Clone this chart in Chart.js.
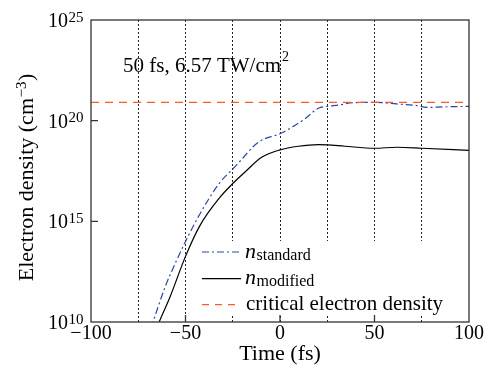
<!DOCTYPE html>
<html>
<head>
<meta charset="utf-8">
<script src="https://cdn.jsdelivr.net/npm/chart.js@4.4.0/dist/chart.umd.min.js"></script>
<style>
  html, body { margin: 0; padding: 0; background: #fff; }
  #wrap { width: 493px; height: 373px; position: relative; }
</style>
</head>
<body>
<div id="wrap"><canvas id="chart"></canvas></div>
<script>
// time in fs, density given as log10 of electron density (cm^-3)
const timeStandard = [-68.3, -67.2, -60.8, -55, -50, -42.3, -31.7, -25, -22, -11.5, 0, 6.2, 13.2, 20.3, 25, 31.7, 37, 50, 61.7, 72.3, 77.6, 88, 100];
const logStandard = [9.7, 10.0, 11.74, 13.0, 14.0, 15.38, 16.94, 17.6, 17.9, 18.93, 19.35, 19.67, 20.09, 20.62, 20.71, 20.78, 20.88, 20.91, 20.83, 20.75, 20.66, 20.69, 20.71];
const timeModified = [-65, -63.9, -58.2, -50, -42.3, -31.7, -25.6, -18.5, -9.7, 0, 9.7, 20.3, 25, 34.4, 50, 61.7, 75, 100];
const logModified = [9.73, 10.0, 11.24, 13.26, 14.8, 16.2, 16.82, 17.45, 18.18, 18.55, 18.73, 18.81, 18.8, 18.73, 18.63, 18.68, 18.63, 18.52];
const criticalLog = 20.91;
const timeRange = [-100, 100];

const xGridStep = 25;
const xLabelValues = [-100, -50, 0, 50, 100];
const yTickExponents = [10, 15, 20, 25];

const FONT = '"Liberation Serif", "Times New Roman", serif';
const BLUE = '#2d45a6';
const RED = '#ff5a2e';

const toPoints = (ts, logs) => ts.map((t, i) => ({ x: t, y: Math.pow(10, logs[i]) }));

const decor = {
  id: 'decor',
  afterDatasetsDraw(chart) {
    const { ctx, chartArea: a, scales: { x, y } } = chart;
    ctx.save();

    // legend box (white, hides the dotted lines)
    const box = { left: 200, top: 241, right: a.right - 3, bottom: 315 };
    ctx.fillStyle = '#fff';
    ctx.fillRect(box.left, box.top, box.right - box.left, box.bottom - box.top);

    const rows = [
      { y: 252, color: BLUE, dash: [7, 3, 2, 3], main: 'n', sub: 'standard' },
      { y: 278.7, color: '#000', dash: [], main: 'n', sub: 'modified' },
      { y: 304.7, color: RED, dash: [7, 6], text: 'critical electron density' },
    ];
    rows.forEach(r => {
      ctx.beginPath();
      ctx.strokeStyle = r.color;
      ctx.lineWidth = 1.2;
      ctx.setLineDash(r.dash);
      ctx.moveTo(202, r.y);
      ctx.lineTo(241, r.y);
      ctx.stroke();
      ctx.setLineDash([]);
      ctx.fillStyle = '#000';
      ctx.textAlign = 'left';
      ctx.textBaseline = 'alphabetic';
      if (r.text) {
        ctx.font = '21px ' + FONT;
        ctx.fillText(r.text, 246, r.y + 5);
      } else {
        ctx.font = 'italic 22px ' + FONT;
        ctx.fillText(r.main, 245, r.y + 5.5);
        const w = ctx.measureText(r.main).width;
        ctx.font = '16px ' + FONT;
        ctx.fillText(r.sub, 245 + w + 0.5, r.y + 7.5);
      }
    });

    // frame
    ctx.strokeStyle = '#333';
    ctx.lineWidth = 1.3;
    ctx.strokeRect(a.left, a.top, a.right - a.left, a.bottom - a.top);

    // inward major ticks
    ctx.beginPath();
    xLabelValues.forEach(v => {
      if (v <= timeRange[0] || v >= timeRange[1]) return;
      const px = x.getPixelForValue(v);
      ctx.moveTo(px, a.bottom);
      ctx.lineTo(px, a.bottom - 7);
    });
    yTickExponents.forEach(e => {
      if (e === yTickExponents[0] || e === yTickExponents[yTickExponents.length - 1]) return;
      const py = y.getPixelForValue(Math.pow(10, e));
      ctx.moveTo(a.left, py);
      ctx.lineTo(a.left + 7, py);
    });
    ctx.stroke();

    // annotation
    ctx.fillStyle = '#000';
    ctx.font = '21px ' + FONT;
    ctx.textAlign = 'left';
    ctx.textBaseline = 'alphabetic';
    const ann = '50 fs, 6.57 TW/cm';
    ctx.fillText(ann, a.left + 32, a.top + 52);
    const aw = ctx.measureText(ann).width;
    ctx.font = '14px ' + FONT;
    ctx.fillText('2', a.left + 32 + aw + 1, a.top + 41);

    ctx.restore();
  },
  afterDraw(chart) {
    const { ctx, scales: { y } } = chart;
    ctx.save();
    ctx.fillStyle = '#000';
    ctx.textBaseline = 'alphabetic';

    // y tick labels 10^n
    yTickExponents.forEach(e => {
      const py = y.getPixelForValue(Math.pow(10, e));
      ctx.font = '20px ' + FONT;
      ctx.textAlign = 'right';
      ctx.fillText('10', 68, py + 7);
      ctx.font = '15px ' + FONT;
      ctx.textAlign = 'left';
      ctx.fillText(String(e), 68.5, py + 1.5);
    });

    // y axis title with superscript
    ctx.translate(33, 177.5);
    ctx.rotate(-Math.PI / 2);
    const main = 'Electron density (cm';
    const sup = '\u22123';
    ctx.font = '22px ' + FONT;
    const w1 = ctx.measureText(main).width;
    const w3 = ctx.measureText(')').width;
    ctx.font = '15px ' + FONT;
    const w2 = ctx.measureText(sup).width;
    let cx = -(w1 + w2 + w3 + 1) / 2;
    ctx.textAlign = 'left';
    ctx.font = '22px ' + FONT;
    ctx.fillText(main, cx, 0);
    cx += w1 + 0.5;
    ctx.font = '15px ' + FONT;
    ctx.fillText(sup, cx, -7);
    cx += w2 + 0.5;
    ctx.font = '22px ' + FONT;
    ctx.fillText(')', cx, 0);
    ctx.restore();
  }
};

new Chart(document.getElementById('chart'), {
  type: 'line',
  data: {
    datasets: [
      {
        label: 'critical electron density',
        data: timeRange.map(t => ({ x: t, y: Math.pow(10, criticalLog) })),
        borderColor: RED,
        borderWidth: 1.2,
        borderDash: [8, 6],
        pointRadius: 0,
      },
      {
        label: 'n_standard',
        data: toPoints(timeStandard, logStandard),
        borderColor: BLUE,
        borderWidth: 1.2,
        borderDash: [7, 3, 2, 3],
        pointRadius: 0,
        cubicInterpolationMode: 'monotone',
      },
      {
        label: 'n_modified',
        data: toPoints(timeModified, logModified),
        borderColor: '#000',
        borderWidth: 1.2,
        pointRadius: 0,
        cubicInterpolationMode: 'monotone',
      },
    ],
  },
  options: {
    responsive: true,
    maintainAspectRatio: false,
    animation: false,
    layout: { padding: { top: 20, right: 24, bottom: 0, left: 0 } },
    plugins: { legend: { display: false }, tooltip: { enabled: false } },
    scales: {
      x: {
        type: 'linear',
        min: timeRange[0],
        max: timeRange[1],
        afterBuildTicks: s => {
          const t = [];
          for (let v = timeRange[0]; v <= timeRange[1]; v += xGridStep) t.push({ value: v });
          s.ticks = t;
        },
        afterFit: s => { s.height = 51; },
        ticks: {
          autoSkip: false,
          maxRotation: 0,
          padding: 0,
          color: '#000',
          font: { family: FONT, size: 20 },
          callback: v => xLabelValues.includes(v) ? (v < 0 ? '\u2212' + Math.abs(v) : String(v)) : '',
        },
        grid: {
          drawTicks: false,
          lineWidth: 1,
          color: c => (c.tick && (c.tick.value <= timeRange[0] || c.tick.value >= timeRange[1])) ? 'rgba(0,0,0,0)' : '#222',
        },
        border: { display: false, dash: [2, 2] },
        title: {
          display: true,
          text: 'Time (fs)',
          color: '#000',
          font: { family: FONT, size: 22 },
          padding: { top: 0, bottom: 6 },
        },
      },
      y: {
        type: 'logarithmic',
        min: Math.pow(10, yTickExponents[0]),
        max: Math.pow(10, yTickExponents[yTickExponents.length - 1]),
        afterBuildTicks: s => { s.ticks = yTickExponents.map(e => ({ value: Math.pow(10, e) })); },
        afterFit: s => { s.width = 91; },
        ticks: { display: false },
        grid: { display: false },
        border: { display: false },
      },
    },
  },
  plugins: [decor],
});
</script>
</body>
</html>
